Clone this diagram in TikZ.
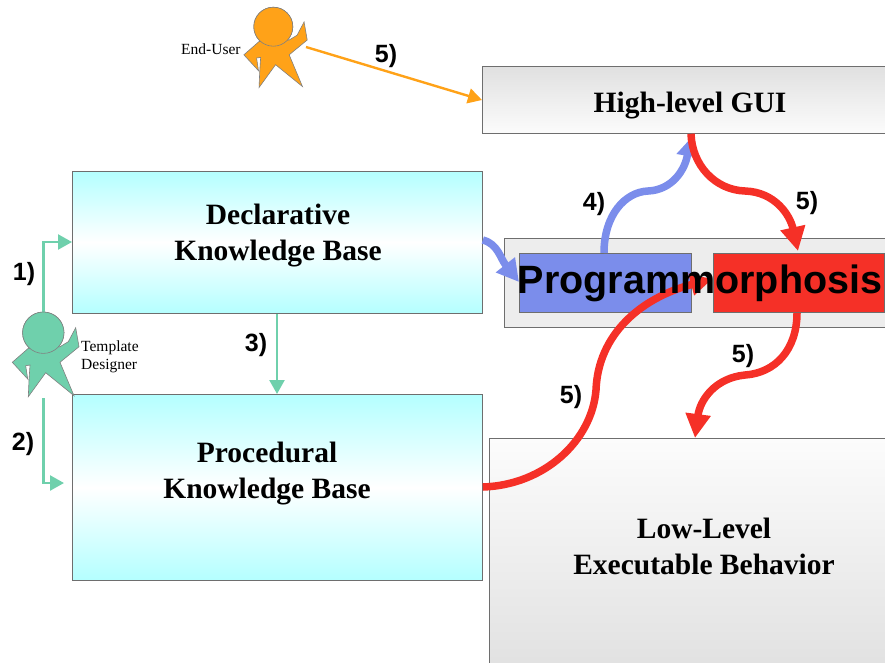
\documentclass[tikz,border=0pt]{standalone}
\usepackage{fontspec}
\setmainfont{Liberation Serif}
\newfontfamily\lsans{Liberation Sans}
\usetikzlibrary{arrows.meta}
\definecolor{tealc}{HTML}{6FD0AC}
\definecolor{orangec}{HTML}{FFA218}
\definecolor{bluec}{HTML}{7B8DEB}
\definecolor{redc}{HTML}{F53027}
\definecolor{cyanc}{HTML}{B4FFFF}
\definecolor{edgec}{HTML}{6E6E6E}
\definecolor{gradlight}{HTML}{FCFCFC}
\definecolor{graddark}{HTML}{E0E0E0}
\newcommand{\personbody}{(-31,29.6) -- (-15,15.6) -- (16.7,14) -- (25,9) -- (32.4,-5) -- (35.7,14) -- (16.7,29.6) -- (30.7,63) -- (2.4,40) -- (-15,64) -- (-14.3,47.3) -- (-13.3,32.3) -- (-17.6,33) -- (-15.6,46.3) -- cycle}
\tikzset{
  kbbox/.style={draw=edgec,line width=.8pt,anchor=north west,inner sep=0,top color=cyanc,bottom color=cyanc,middle color=white},
  graybox/.style={draw=edgec,line width=.8pt,anchor=north west,inner sep=0},
  panelbox/.style={draw=edgec,line width=.8pt,fill=#1,anchor=north west,inner sep=0},
  title/.style={font=\fontsize{29.5}{36}\selectfont\bfseries,align=center,inner sep=0},
  steplabel/.style={font=\lsans\fontsize{25}{26}\selectfont\bfseries,inner sep=0},
  smalltext/.style={font=\fontsize{15.5}{18}\selectfont,inner sep=0},
  thin arrow/.style={draw=#1,line width=2.4pt,-{Triangle[length=14pt,width=15pt,fill=#1]}},
  fat arrow/.style={draw=#1,line width=7.5pt,-{Triangle[length=24pt,width=24pt,fill=#1]}},
  personhead/.style={circle,draw=gray,line width=.6pt,fill=#1,inner sep=0},
  personshape/.style={draw=gray,line width=.6pt,fill=#1,line join=miter}
}
\begin{document}
\begin{tikzpicture}[x=1pt,y=-1pt]
\useasboundingbox (0,0) rectangle (885,662);
\clip (0,0) rectangle (885,662);
% boxes
\node[kbbox,minimum width=410pt,minimum height=142pt] (decl) at (72,171) {};
\node[kbbox,minimum width=410pt,minimum height=186pt] (proc) at (72,394) {};
\node[graybox,top color=graddark,bottom color=gradlight,minimum width=420pt,minimum height=67pt] (gui) at (482,66) {};
\node[graybox,top color=gradlight,bottom color=graddark,minimum width=420pt,minimum height=240pt] (low) at (489,438) {};
\node[panelbox=black!7,minimum width=400pt,minimum height=89pt] (panel) at (504,238) {};
\node[panelbox=bluec,minimum width=172pt,minimum height=59pt] (blue) at (519,253) {};
\node[panelbox=redc,minimum width=171.5pt,minimum height=59pt] (red) at (712.5,253) {};
% box titles
\node[title] (tdecl) at (278,236) {Declarative\\Knowledge Base};
\node[title] (tproc) at (267,474) {Procedural\\Knowledge Base};
\node[title] (tgui) at (690,105.5) {High-level GUI};
\node[title] (tlow) at (704,546) {Low-Level\\Executable Behavior};
% connectors
\node[personhead=tealc,minimum size=41.4pt] (thead) at (43.3,332.7) {};
\node[personhead=orangec,minimum size=39pt] (ehead) at (273.3,26.7) {};
\coordinate (tfoot) at (43.3,398);
\coordinate (t2end) at (64,483);
\coordinate (ehand) at (306,47);
\draw[thin arrow=tealc] (thead.north) -- (43.3,242) -- (decl.west |- 0,242);
\draw[thin arrow=tealc] (tfoot) -- (43.3,483) -- (t2end);
\draw[thin arrow=tealc] (decl.south -| 277,0) -- (proc.north -| 277,0);
\draw[thin arrow=orangec] (ehand) -- (gui.west |- 0,100);
% persons
\begin{scope}[shift={(43.3,332.7)}]
\draw[personshape=tealc] \personbody;
\end{scope}
\node[personhead=tealc,minimum size=41.4pt] (thead2) at (thead) {};
\begin{scope}[shift={(273.3,26.7)},scale=.95]
\draw[personshape=orangec] \personbody;
\end{scope}
\node[personhead=orangec,minimum size=39pt] (ehead2) at (ehead) {};
% fat arrows
\draw[fat arrow=bluec,-{Triangle[length=22pt,width=23pt,fill=bluec]}] (decl.east |- 0,240) .. controls (498,244) and (500,258) .. (blue.west |- 0,282);
\draw[fat arrow=bluec,-{Triangle[length=17pt,width=21pt,fill=bluec]}] (blue.north -| 604,0) .. controls (604,215) and (625,192) .. (648,191) .. controls (672,190) and (685,170) .. (690,139);
\draw[fat arrow=redc] (gui.south -| 691,0) .. controls (692,165) and (715,190) .. (745,191) .. controls (775,192) and (790,215) .. (798,251);
\draw[fat arrow=redc] (red.south -| 797,0) .. controls (797,350) and (775,373) .. (745,375) .. controls (715,378) and (700,400) .. (695,438);
\draw[fat arrow=redc,-{Triangle[length=22pt,width=21pt,fill=redc]}] (proc.east |- 0,487) .. controls (545,485) and (592,440) .. (596,390) .. controls (598,335) and (640,298) .. (red.west |- 0,279);
% Programmorphosis
\node[font=\lsans\fontsize{39.5}{42}\selectfont\bfseries,inner sep=0,anchor=base] (pm) at (700,293) {Programmorphosis};
% labels
\node[steplabel] (l1) at (24,274) {1)};
\node[steplabel] (l2) at (23,444) {2)};
\node[steplabel] (l3) at (256,345) {3)};
\node[steplabel] (l4) at (594,204) {4)};
\node[steplabel] (l5a) at (386,56) {5)};
\node[steplabel] (l5b) at (807,203) {5)};
\node[steplabel] (l5c) at (743,356) {5)};
\node[steplabel] (l5d) at (571,397) {5)};
\node[smalltext,anchor=west] (enduser) at (181,49) {End-User};
\node[smalltext,anchor=west,align=left] (tmpl) at (81,357) {Template\\Designer};
\end{tikzpicture}
\end{document}
